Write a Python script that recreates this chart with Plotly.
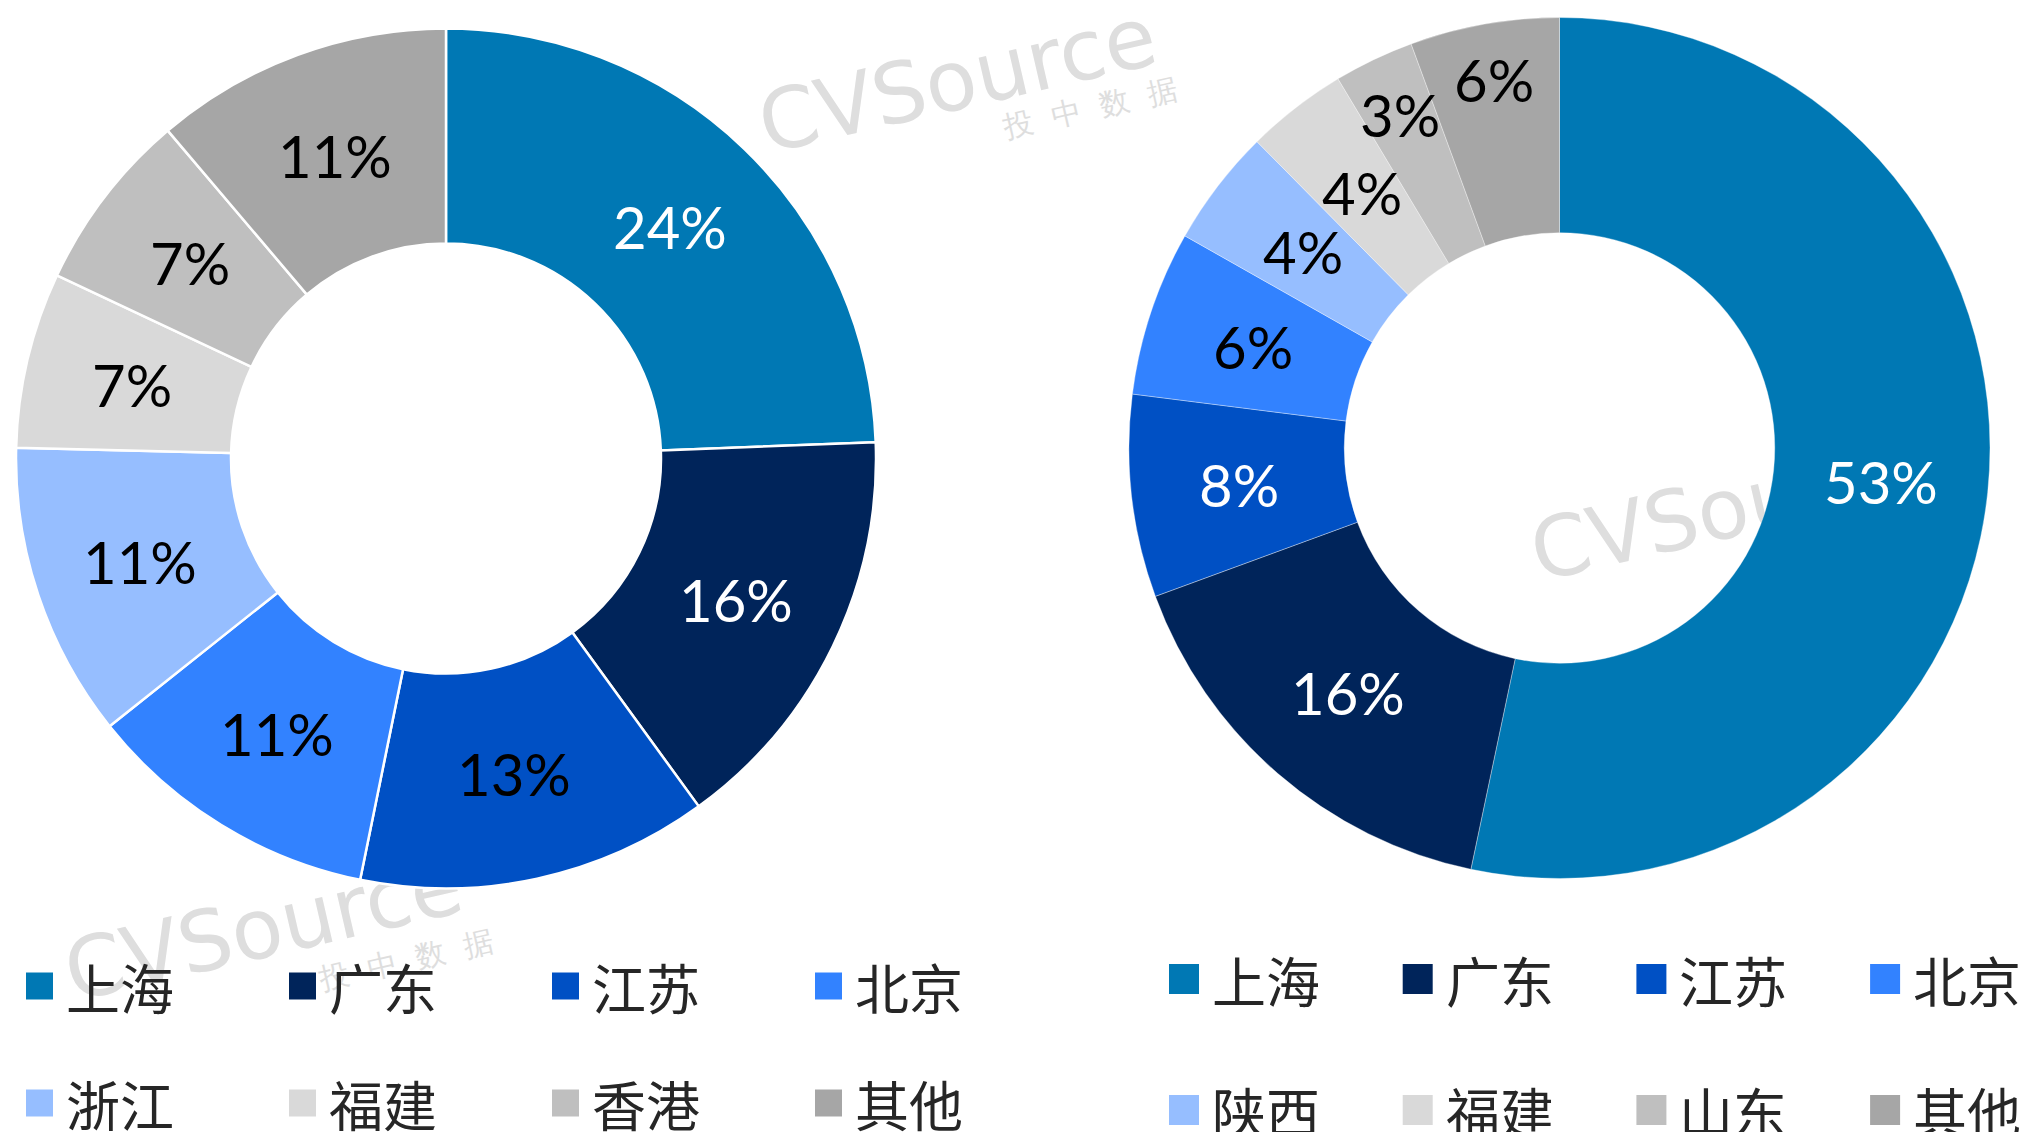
import math
import plotly.graph_objects as go

W, H = 2020, 1132

# ---------------- data ----------------
labels_left = ["上海", "广东", "江苏", "北京", "浙江", "福建", "香港", "其他"]
values_left = [24.4, 15.6, 13.2, 11.1, 11.1, 6.6, 6.8, 11.2]
colors_left = ["#0078B4", "#00245A", "#0050C4", "#3282FF", "#96BEFF", "#D9D9D9", "#BFBFBF", "#A6A6A6"]
textcol_left = ["white", "white", "black", "black", "black", "black", "black", "black"]

labels_right = ["上海", "广东", "江苏", "北京", "陕西", "福建", "山东", "其他"]
values_right = [53.3, 16.1, 7.6, 6.2, 4.4, 3.8, 3.0, 5.6]
colors_right = ["#0078B4", "#00245A", "#0050C4", "#3282FF", "#96BEFF", "#D9D9D9", "#BFBFBF", "#A6A6A6"]
textcol_right = ["white", "white", "white", "black", "black", "black", "black", "black"]

LABEL_FONT = "Lato"
LABEL_SIZE = 58
HOLE = 0.5

# label radius overrides (fraction of outer radius) for crowded top slices
R_OVERRIDE_RIGHT = {"山东": 0.86, "其他": 0.87}


def px2x(px):
    return px / W


def px2y(py):
    return 1 - py / H


LEFT_DOM = dict(x=[16, 876], y=[28, 889])      # pixel box
RIGHT_DOM = dict(x=[1129, 1990], y=[17, 879])

fig = go.Figure()
shapes = []
annotations = []


def add_donut(labels, values, colors, textcols, dom, line, r_override):
    fig.add_trace(go.Pie(
        labels=labels, values=values, hole=HOLE, sort=False,
        direction="clockwise", rotation=0,
        marker=dict(colors=colors, line=line),
        textinfo="none",
        domain=dict(x=[px2x(dom["x"][0]), px2x(dom["x"][1])],
                    y=[px2y(dom["y"][1]), px2y(dom["y"][0])]),
        showlegend=False, hoverinfo="label+percent",
    ))
    # percentage labels placed at each slice's mid-angle, centred in the ring
    cx = (dom["x"][0] + dom["x"][1]) / 2
    cy = (dom["y"][0] + dom["y"][1]) / 2
    r = min(dom["x"][1] - dom["x"][0], dom["y"][1] - dom["y"][0]) / 2
    total = sum(values)
    cum = 0.0
    for lab, v, tc in zip(labels, values, textcols):
        mid = (cum + v / 2) / total * 2 * math.pi
        cum += v
        rf = r_override.get(lab, (1 + HOLE) / 2)
        x = cx + rf * r * math.sin(mid)
        y = cy - rf * r * math.cos(mid)
        annotations.append(dict(
            text=f"{round(v / total * 100)}%", xref="paper", yref="paper",
            x=px2x(x), y=px2y(y), xanchor="center", yanchor="middle",
            showarrow=False, font=dict(family=LABEL_FONT, size=LABEL_SIZE, color=tc),
        ))


add_donut(labels_left, values_left, colors_left, textcol_left, LEFT_DOM,
          dict(color="white", width=2.5), {})
add_donut(labels_right, values_right, colors_right, textcol_right, RIGHT_DOM,
          dict(color="rgba(255,255,255,0.35)", width=1), R_OVERRIDE_RIGHT)

# ---------------- watermarks (behind the donuts) ----------------
WM_COLOR = "#DEDEDE"


def watermark(cx, cy, text, size):
    shapes.append(dict(
        type="rect", xref="paper", yref="paper", layer="below",
        x0=px2x(cx - 5), x1=px2x(cx + 5), y0=px2y(cy + 5), y1=px2y(cy - 5),
        line=dict(width=0), fillcolor="rgba(0,0,0,0)",
        label=dict(text=text, textangle=-13, textposition="middle center",
                   font=dict(family="DejaVu Sans", size=size, color=WM_COLOR)),
    ))


watermark(956, 74, "CVSource", 84)
watermark(1090, 106, "投  中  数  据", 30)
watermark(262, 922, "CVSource", 84)
watermark(406, 958, "投  中  数  据", 30)
watermark(1728, 502, "CVSource", 84)
watermark(1860, 540, "投  中  数  据", 30)

# ---------------- legends ----------------
LEG_FONT = dict(family="Noto Sans CJK SC", size=54, color="#262626")


def legend(labels, colors, x_start, x_step, rows_y, sq, gap):
    for i, (lab, col) in enumerate(zip(labels, colors)):
        r, c = divmod(i, 4)
        x0 = x_start + c * x_step
        yc = rows_y[r]
        shapes.append(dict(
            type="rect", xref="paper", yref="paper", layer="above",
            x0=px2x(x0), x1=px2x(x0 + sq),
            y0=px2y(yc + sq / 2), y1=px2y(yc - sq / 2),
            line=dict(width=0), fillcolor=col,
        ))
        annotations.append(dict(
            text=lab, xref="paper", yref="paper",
            x=px2x(x0 + gap), y=px2y(yc), xanchor="left", yanchor="middle",
            showarrow=False, font=LEG_FONT,
        ))


legend(labels_left, colors_left, 26, 263, [986, 1103], 27, 38)
legend(labels_right, colors_right, 1169, 233.7, [979, 1110], 30, 41)

fig.update_layout(
    width=W, height=H,
    margin=dict(l=0, r=0, t=0, b=0),
    paper_bgcolor="white", plot_bgcolor="white",
    shapes=shapes, annotations=annotations,
)

fig.write_html("out.html")
